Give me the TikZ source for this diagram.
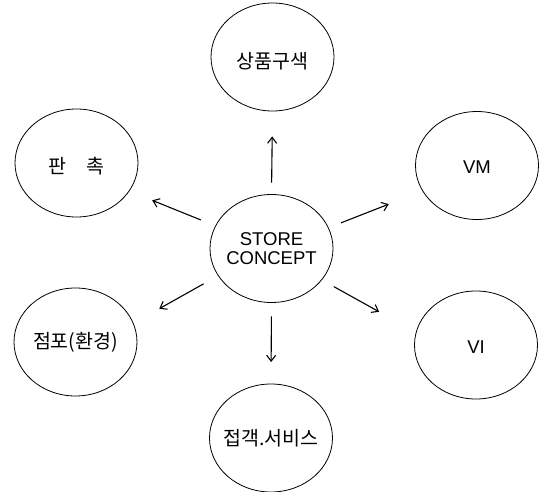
\documentclass[tikz,border=0pt]{standalone}
\usepackage{fontspec}
\setmainfont{Liberation Sans}
\newfontfamily\kr{Noto Sans CJK KR}
\usetikzlibrary{arrows.meta}
\usetikzlibrary{shapes.geometric}

\begin{document}
\begin{tikzpicture}[x=1pt,y=-1pt,
	bubble/.style={draw, ellipse, line width=0.8pt, minimum width=123pt, minimum height=108pt, inner sep=0pt},
	lat/.style={font=\fontsize{18.5}{19.5}\selectfont, align=center},
	kor/.style={font=\kr\fontsize{19.5}{21}\selectfont},
	arr/.style={-{Straight Barb[length=6pt,width=9pt]}, line width=1.1pt}]
	\useasboundingbox (0,0) rectangle (539,492);
	% centre and the six bubbles round it
	\node[bubble, label={[lat]center:STORE\\CONCEPT}] (sc) at (271.5,248.5) {};
	\node[bubble, label={[kor, yshift=-4pt]center:상품구색}] (top) at (272.5,57) {};
	\node[bubble, label={[kor, yshift=-3pt]center:판\hspace{21pt}촉}] (pr) at (76.5,163) {};
	\node[bubble, label={[lat, yshift=-2pt]center:VM}] (vm) at (477,165.5) {};
	\node[bubble, label={[kor]center:점포(환경)}] (st) at (75.5,342) {};
	\node[bubble, label={[lat, yshift=-2pt]center:VI}] (vi) at (476,345) {};
	\node[bubble, label={[kor]center:접객.서비스}] (sv) at (271,438) {};
	% arrows out of the centre
	\draw[arr, shorten <=11.5pt, shorten >=25pt] (sc.north) -- (top.south);
	\draw[arr, shorten <=15.5pt, shorten >=24.5pt] (sc.158.5) -- (pr.-28.5);
	\draw[arr, shorten <=13.3pt, shorten >=36pt] (sc.20) -- (vm.205);
	\draw[arr, shorten <=16.5pt, shorten >=29.5pt] (sc.207.7) -- (st.18);
	\draw[arr, shorten <=13.5pt, shorten >=42pt] (sc.-32) -- (vi.168);
	\draw[arr, shorten <=13.5pt, shorten >=21.5pt] (sc.south) -- (sv.north);
\end{tikzpicture}
\end{document}
